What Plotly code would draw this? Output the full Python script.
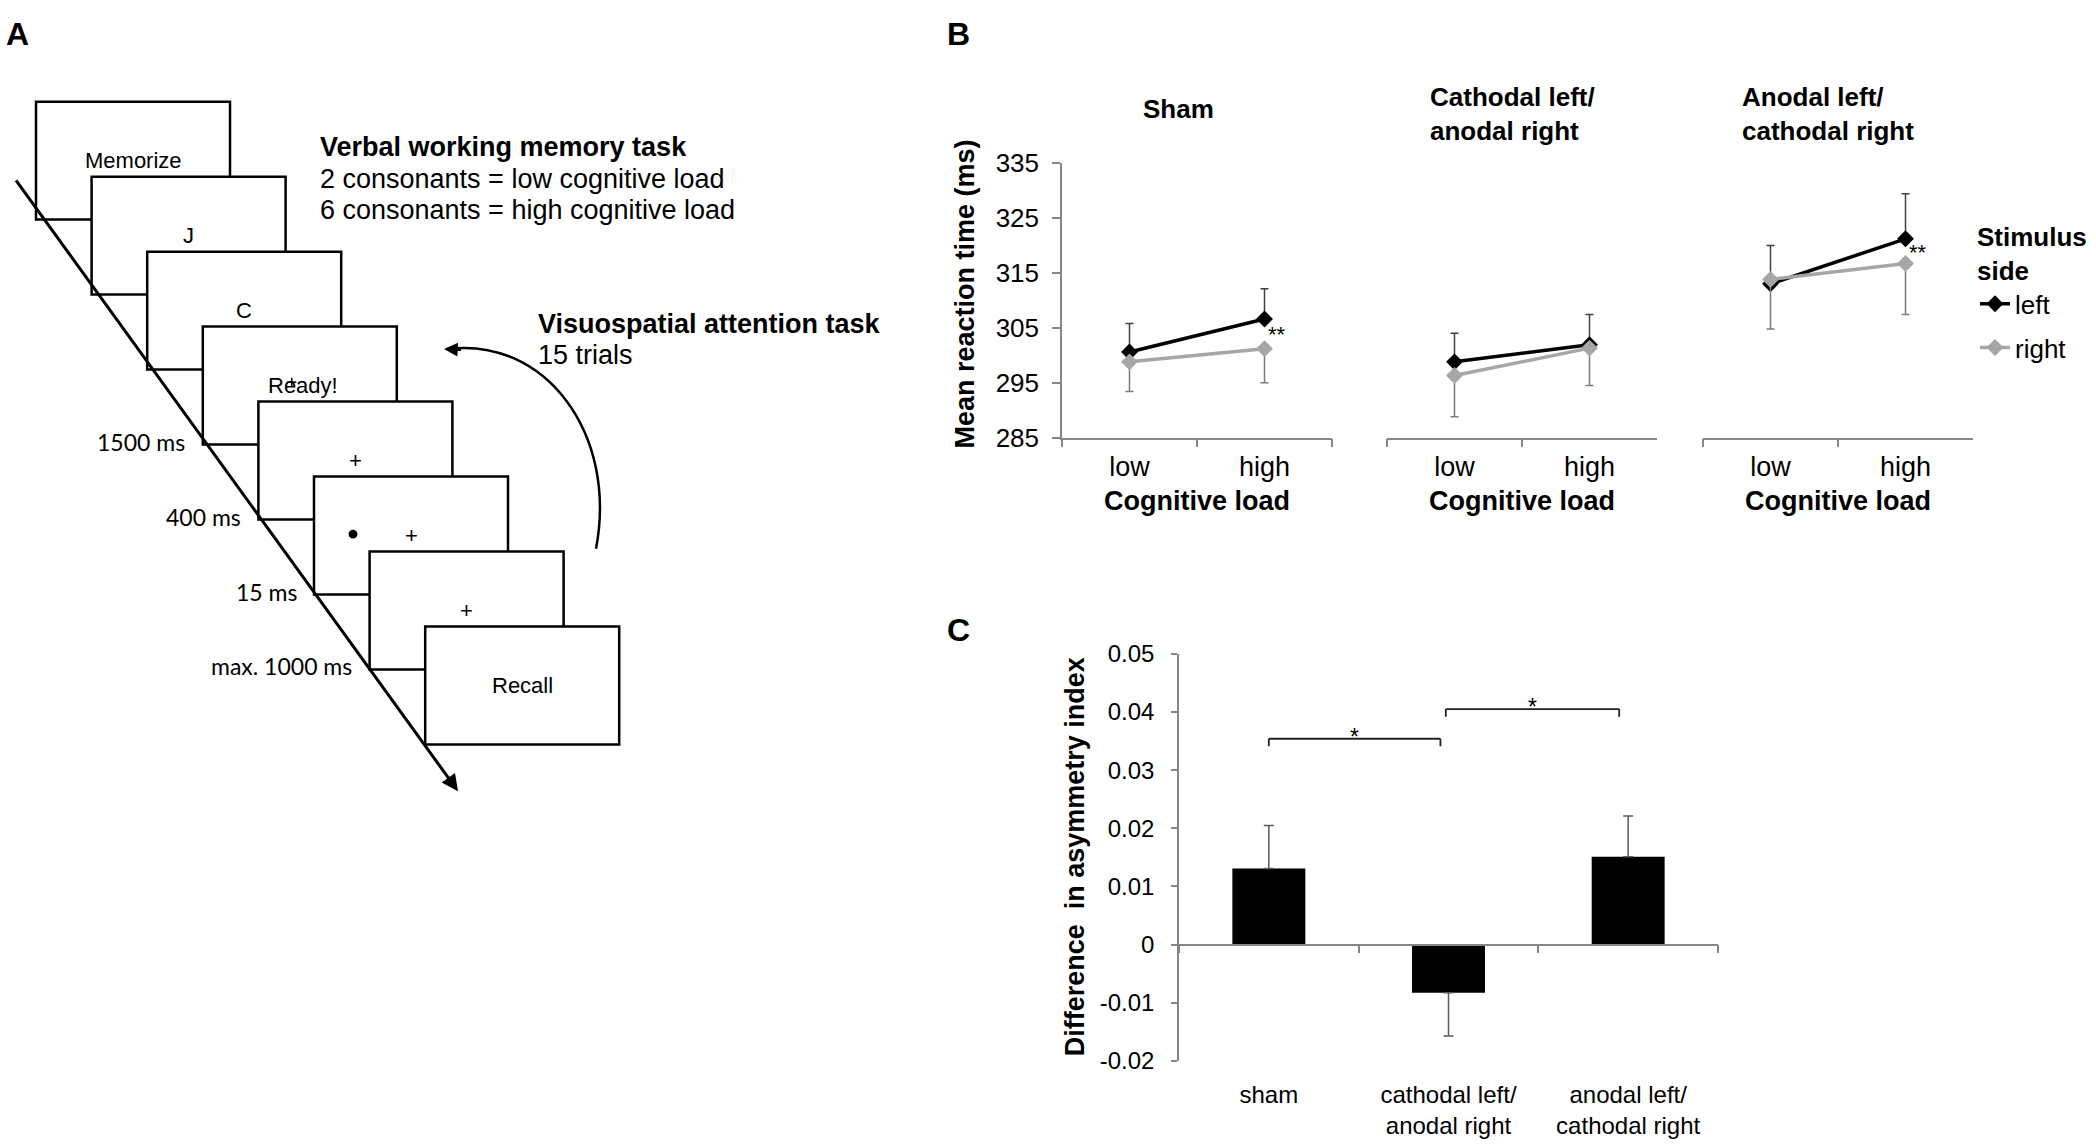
import plotly.graph_objects as go

W, H = 2096, 1146
ARIAL = "Liberation Sans, Arial, sans-serif"
CALIBRI = "Lato, Carlito, Calibri, sans-serif"
AX = "#868686"

# ================= DATA =================
# Panel A: trial sequence
frame_texts = ["Memorize", "J", "C", "Ready!", "+", "+", "+", "Recall"]
frame_durations = ["", "", "", "1500 ms", "400 ms", "15 ms", "max. 1000 ms", ""]
wm_task_title = "Verbal working memory task"
wm_task_lines = ["2 consonants = low cognitive load", "6 consonants = high cognitive load"]
att_task_title = "Visuospatial attention task"
att_task_lines = ["15 trials"]

# Panel B: mean reaction time (ms)
load_levels = ["low", "high"]
conditions_B = ["Sham", "Cathodal left/<br>anodal right", "Anodal left/<br>cathodal right"]
series_names = ["left", "right"]
rt_left = [[300.6, 306.6], [298.8, 301.9], [313.0, 321.2]]
rt_right = [[298.8, 301.2], [296.3, 301.3], [313.8, 316.7]]
err_left_plus = [[5.2, 5.5], [5.2, 5.5], [7.0, 8.2]]
err_right_minus = [[5.4, 6.2], [7.5, 6.8], [9.0, 9.3]]
sig_B_text = ["**", "", "**"]
sig_B_y = [303.8, None, 318.8]
B_yticks = [285, 295, 305, 315, 325, 335]

# Panel C: difference in asymmetry index
groups_C = ["sham", "cathodal left/<br>anodal right", "anodal left/<br>cathodal right"]
asym_diff = [0.0131, -0.0083, 0.0151]
asym_err = [0.0074, 0.0074, 0.0070]
C_tickvals = [-0.02, -0.01, 0, 0.01, 0.02, 0.03, 0.04, 0.05]
C_ticktext = ["-0.02", "-0.01", "0", "0.01", "0.02", "0.03", "0.04", "0.05"]
# significance brackets: (x from, x to, bracket height, label)
sig_pairs = [(0.0, 0.955, 0.0354, "*"), (0.985, 1.95, 0.0405, "*")]
bracket_leg = 0.0013


# ================= HELPERS =================
def px(x):
    return x / W


def py(y):
    return 1 - y / H


annotations = []
shapes = []


def text(x, y, s, size, bold=False, xanchor="center", yanchor="middle",
         family=ARIAL, angle=0, align="center", color="black"):
    annotations.append(dict(
        x=px(x), y=py(y), xref="paper", yref="paper",
        text=f"<b>{s}</b>" if bold else s, showarrow=False,
        xanchor=xanchor, yanchor=yanchor, textangle=angle, align=align,
        font=dict(family=family, size=size, color=color)))


def seg(x0, y0, x1, y1, width=1.6):
    shapes.append(dict(type="line", xref="paper", yref="paper",
                       x0=px(x0), y0=py(y0), x1=px(x1), y1=py(y1),
                       line=dict(color="black", width=width)))


fig = go.Figure()

# ================= PANEL A (schematic) =================
BOX_X0, BOX_Y0, BOX_DX, BOX_DY, BOX_W, BOX_H = 36, 89, 55.6, 77, 194, 121
for i, t in enumerate(frame_texts):
    x0 = BOX_X0 + i * BOX_DX
    y0 = BOX_Y0 + i * BOX_DY
    shapes.append(dict(type="rect", xref="paper", yref="paper",
                       x0=px(x0), x1=px(x0 + BOX_W), y0=py(y0 + BOX_H), y1=py(y0),
                       fillcolor="white", line=dict(color="black", width=2.5)))
for i, t in enumerate(frame_texts):
    x0 = BOX_X0 + i * BOX_DX
    y0 = BOX_Y0 + i * BOX_DY
    if i == len(frame_texts) - 1:
        text(x0 + 97, y0 + BOX_H / 2, t, 22)
    elif t == "Ready!":
        # fixation cross showing through the "Ready!" screen
        cxp, cyp = x0 + 89, y0 + 57
        seg(cxp - 4.5, cyp, cxp + 4.5, cyp, 1.5)
        seg(cxp, cyp - 4.5, cxp, cyp + 4.5, 1.5)
        text(x0 + 100, y0 + 60, t, 22)
    else:
        text(x0 + 97, y0 + 60, t, 22)
    if i == 5:  # peripheral target dot
        cx, cy = x0 + 39, y0 + 59
        shapes.append(dict(type="circle", xref="paper", yref="paper",
                           x0=px(cx - 4.5), x1=px(cx + 4.5), y0=py(cy + 4.5), y1=py(cy - 4.5),
                           fillcolor="black", line=dict(color="black", width=0)))
    if frame_durations[i]:
        ly = y0 + BOX_H - 3
        dx = 13 + (ly - 182) / 1.382
        text(dx - 11, ly, frame_durations[i], 23, xanchor="right", family=CALIBRI)

# time arrow (diagonal)
annotations.append(dict(x=px(458), y=py(797), xref="paper", yref="paper", text=" ",
                        showarrow=True, ax=13 - 458, ay=182 - 797, axref="pixel", ayref="pixel",
                        arrowhead=2, arrowsize=1.1, arrowwidth=3, arrowcolor="black", standoff=0))

# curved arrow
pts = [(596, 548), (618, 430), (545, 330), (447, 343)]
path = "M {},{} C {},{} {},{} {},{}".format(*[v for p in pts for v in (px(p[0]), py(p[1]))])
shapes.append(dict(type="path", xref="paper", yref="paper", path=path,
                   line=dict(color="black", width=2.5)))
annotations.append(dict(x=px(444), y=py(343), xref="paper", yref="paper", text=" ",
                        showarrow=True, ax=20, ay=1, arrowhead=2, arrowsize=1.1,
                        arrowwidth=2.5, arrowcolor="black", standoff=0))

text(318, 136, wm_task_title, 27, bold=True, xanchor="left")
for j, line in enumerate(wm_task_lines):
    text(318, 168 + j * 32.5, line, 27, xanchor="left")
text(536, 317, att_task_title, 27, bold=True, xanchor="left")
for j, line in enumerate(att_task_lines):
    text(536, 349 + j * 32.5, line, 27, xanchor="left")

# panel letters
text(17, 19, "A", 32, bold=True)
text(958, 19, "B", 32, bold=True)
text(958, 632, "C", 32, bold=True)

# ================= PANEL B =================
B_x_px = [(1062, 1332), (1387, 1657), (1703, 1973)]
B_y_dom = [py(434), py(152)]
layout_axes = {}
for k in range(3):
    sfx = "" if k == 0 else str(k + 1)
    xa, ya = "x" + sfx, "y" + sfx
    fig.add_trace(go.Scatter(
        x=load_levels, y=rt_left[k], mode="lines+markers", name=series_names[0],
        legendgroup=series_names[0], showlegend=(k == 0),
        line=dict(color="black", width=3.5),
        marker=dict(symbol="diamond", size=13, color="black"),
        error_y=dict(type="data", symmetric=False, array=err_left_plus[k],
                     arrayminus=[0] * len(load_levels), color="#404040", thickness=1.5, width=4),
        xaxis=xa, yaxis=ya, hoverinfo="skip"))
    fig.add_trace(go.Scatter(
        x=load_levels, y=rt_right[k], mode="lines+markers", name=series_names[1],
        legendgroup=series_names[1], showlegend=(k == 0),
        line=dict(color="#A6A6A6", width=3.5),
        marker=dict(symbol="diamond", size=13, color="#A6A6A6"),
        error_y=dict(type="data", symmetric=False, array=[0] * len(load_levels),
                     arrayminus=err_right_minus[k], color="#7a7a7a", thickness=1.5, width=4),
        xaxis=xa, yaxis=ya, hoverinfo="skip"))
    layout_axes["xaxis" + sfx] = dict(
        domain=[px(B_x_px[k][0]), px(B_x_px[k][1])], anchor=ya,
        type="category", categoryorder="array", categoryarray=load_levels,
        range=[-0.5, len(load_levels) - 0.5],
        showline=True, linecolor=AX, linewidth=1.5,
        ticks="outside", tickson="boundaries", ticklen=8, tickwidth=1.5, tickcolor=AX,
        tickfont=dict(family=ARIAL, size=27, color="black"), ticklabelstandoff=4,
        showgrid=False, zeroline=False, fixedrange=True)
    ycfg = dict(domain=B_y_dom, anchor=xa, range=[B_yticks[0], B_yticks[-1]],
                showgrid=False, zeroline=False, fixedrange=True)
    if k == 0:
        ycfg.update(showline=True, linecolor=AX, linewidth=1.5, ticks="outside",
                    ticklen=8, tickwidth=1.5, tickcolor=AX, tickmode="array",
                    tickvals=B_yticks, ticktext=[str(v) for v in B_yticks],
                    tickfont=dict(family=ARIAL, size=26, color="black"), ticklabelstandoff=8)
    else:
        ycfg.update(visible=False)
    layout_axes["yaxis" + sfx] = ycfg

    cx = (B_x_px[k][0] + B_x_px[k][1]) / 2
    text(cx, 499, "Cognitive load", 27, bold=True)
    if sig_B_text[k]:
        annotations.append(dict(x=load_levels[-1], y=sig_B_y[k], xref=xa, yref=ya,
                                text=sig_B_text[k], showarrow=False, xshift=12,
                                font=dict(family=ARIAL, size=22, color="black")))

# panel B titles
text(1178, 97, conditions_B[0], 26, bold=True)
text(1428, 102, conditions_B[1], 26, bold=True, xanchor="left", align="left")
text(1740, 102, conditions_B[2], 26, bold=True, xanchor="left", align="left")
text(965, 287, "Mean reaction time (ms)", 27, bold=True, angle=-90)

# ================= PANEL C =================
C_y_dom = [py(1074), py(656)]
C_range = [C_tickvals[0], C_tickvals[-1]]
zero_pos = C_y_dom[0] + (0 - C_range[0]) / (C_range[1] - C_range[0]) * (C_y_dom[1] - C_y_dom[0])

plus = [e if v >= 0 else 0 for v, e in zip(asym_diff, asym_err)]
minus = [e if v < 0 else 0 for v, e in zip(asym_diff, asym_err)]
fig.add_trace(go.Bar(x=groups_C, y=asym_diff, marker=dict(color="black", line=dict(width=0)),
                     error_y=dict(type="data", symmetric=False, array=plus, arrayminus=minus,
                                  color="#5a5a5a", thickness=1.5, width=5),
                     xaxis="x4", yaxis="y4", showlegend=False, hoverinfo="skip"))
fig.add_trace(go.Scatter(x=groups_C, y=[0] * len(groups_C), mode="markers",
                         marker=dict(opacity=0), xaxis="x5", yaxis="y4",
                         showlegend=False, hoverinfo="skip"))

layout_axes["xaxis4"] = dict(
    domain=[px(1179), px(1718)], anchor="y4", type="category", categoryorder="array",
    categoryarray=groups_C, range=[-0.5, len(groups_C) - 0.5], showline=False, ticks="",
    tickfont=dict(family=ARIAL, size=24, color="black"), ticklabelstandoff=17,
    showgrid=False, zeroline=False, fixedrange=True)
layout_axes["xaxis5"] = dict(
    overlaying="x4", anchor="free", position=zero_pos, type="category",
    categoryorder="array", categoryarray=groups_C, range=[-0.5, len(groups_C) - 0.5],
    showline=True, linecolor=AX, linewidth=1.5, ticks="outside", tickson="boundaries",
    ticklen=8, tickwidth=1.5, tickcolor=AX, showticklabels=False,
    showgrid=False, zeroline=False, fixedrange=True)
layout_axes["yaxis4"] = dict(
    domain=C_y_dom, anchor="x4", range=C_range, tickmode="array",
    tickvals=C_tickvals, ticktext=C_ticktext, showline=True, linecolor=AX, linewidth=1.5,
    ticks="outside", ticklen=6, tickwidth=1.5, tickcolor=AX,
    tickfont=dict(family=ARIAL, size=24, color="black"), ticklabelstandoff=12,
    showgrid=False, zeroline=False, fixedrange=True)

for (a, b, hgt, lab) in sig_pairs:
    for (x0, y0, x1, y1) in [(a, hgt - bracket_leg, a, hgt), (a, hgt, b, hgt), (b, hgt, b, hgt - bracket_leg)]:
        shapes.append(dict(type="line", xref="x4", yref="y4", x0=x0, y0=y0, x1=x1, y1=y1,
                           line=dict(color="#222222", width=1.8)))
    annotations.append(dict(x=(a + b) / 2, y=hgt, xref="x4", yref="y4", text=lab,
                            showarrow=False, yanchor="middle", yshift=2,
                            font=dict(family=ARIAL, size=23, color="black")))

text(1075, 865, "Difference\u00a0 in asymmetry index", 27, bold=True, angle=-90)

fig.update_layout(
    width=W, height=H, margin=dict(l=0, r=0, t=0, b=0, pad=0),
    paper_bgcolor="white", plot_bgcolor="white",
    bargap=0.594, showlegend=True,
    legend=dict(x=px(1975), y=py(203), xanchor="left", yanchor="top",
                title=dict(text="<b>Stimulus</b><br><b>side</b>",
                           font=dict(family=ARIAL, size=26, color="black")),
                font=dict(family=ARIAL, size=26, color="black"),
                tracegroupgap=7, bgcolor="rgba(0,0,0,0)", itemwidth=30),
    annotations=annotations, shapes=shapes,
    **layout_axes)

fig.write_html("out.html", config={"displayModeBar": False},
               post_script="document.body.style.margin='0';document.body.style.overflow='hidden';")
